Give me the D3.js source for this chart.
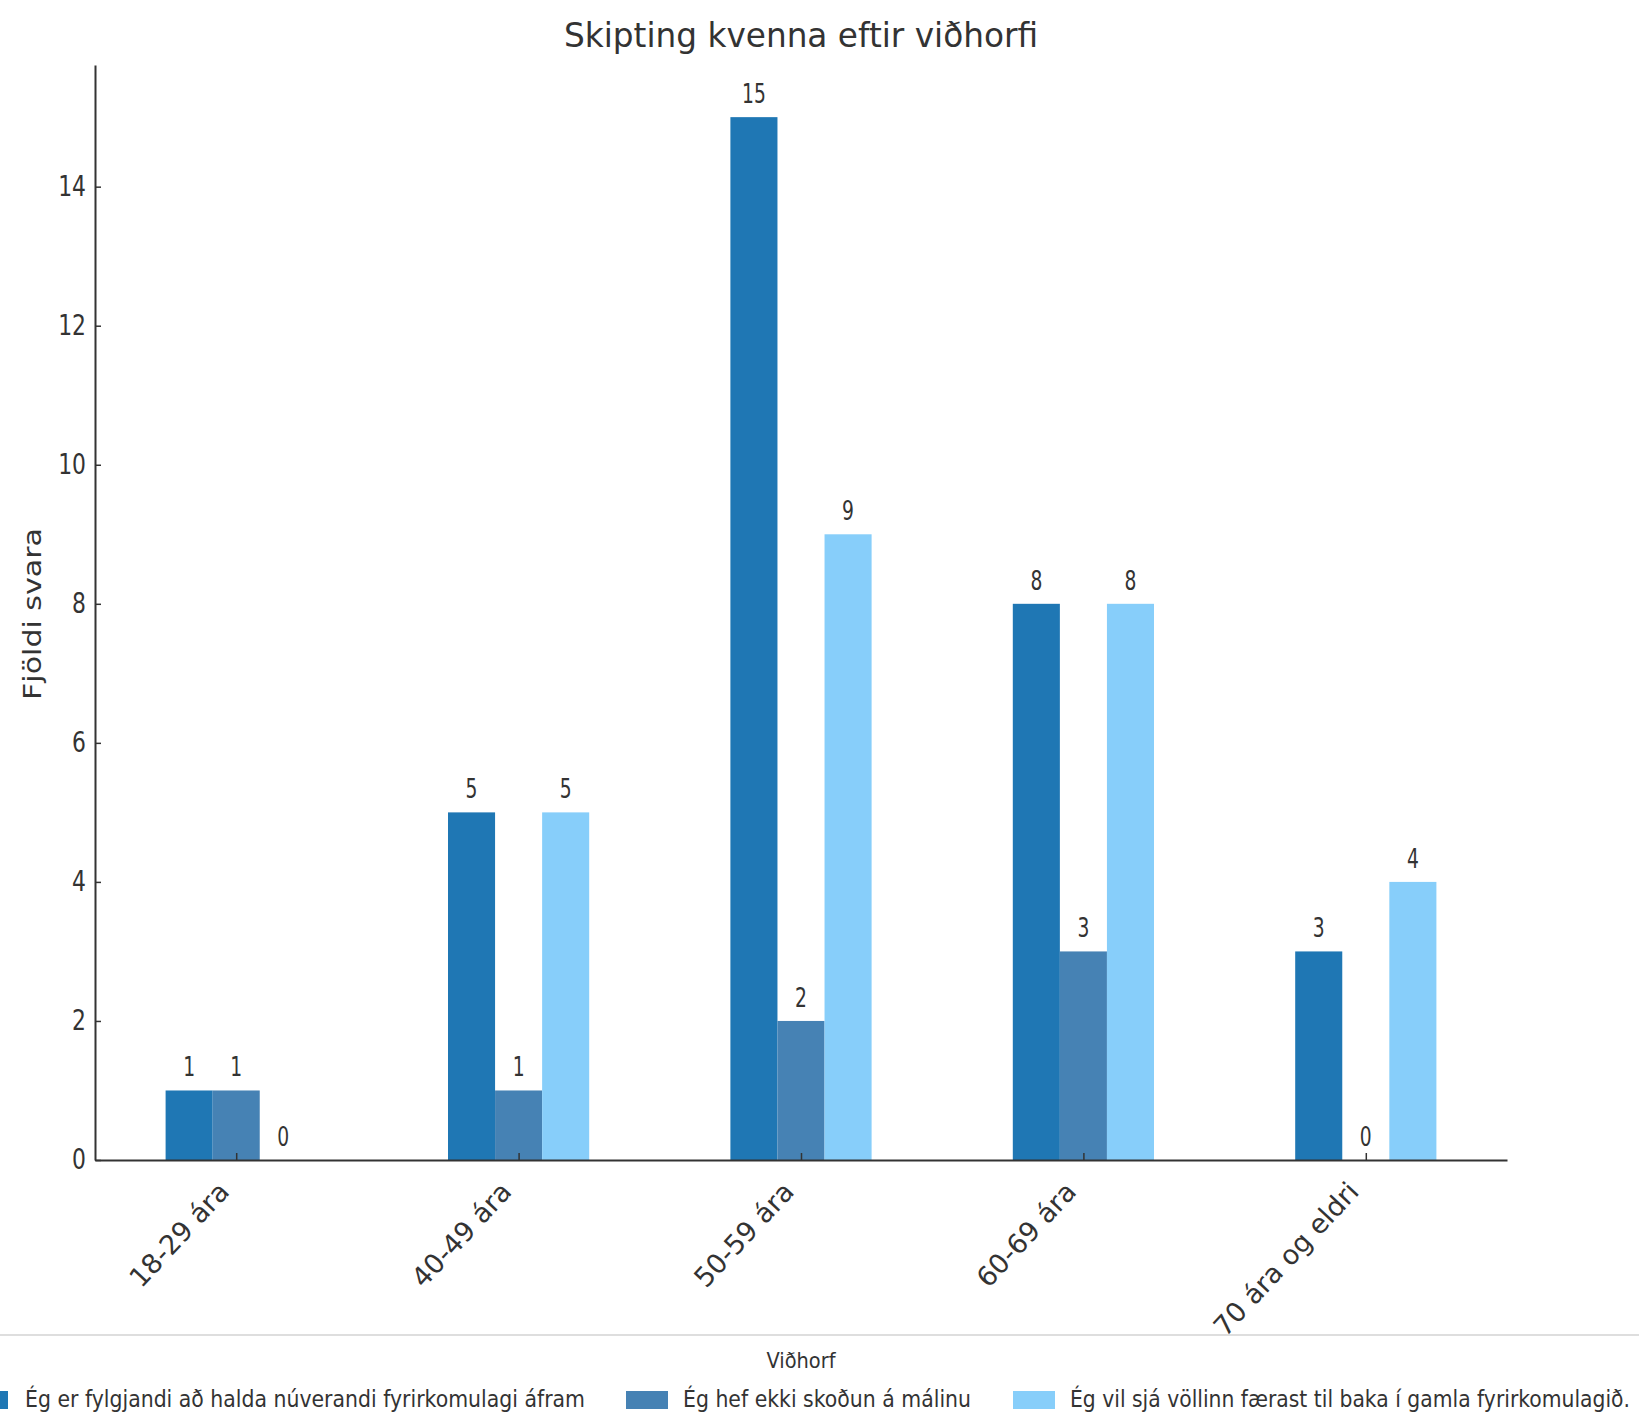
<!DOCTYPE html>
<html>
<head>
<meta charset="utf-8">
<script src="https://cdn.jsdelivr.net/npm/d3@7"></script>
<style>
  html, body { margin: 0; padding: 0; background: #fff; }
  svg { display: block; }
  text { font-family: "DejaVu Sans", sans-serif; fill: #333; }
</style>
</head>
<body>
<svg id="chart" width="1639" height="1417"></svg>
<script>
// ---- data ----
const title = "Skipting kvenna eftir viðhorfi";
const yLabel = "Fjöldi svara";
const legendTitle = "Viðhorf";
const categories = ["18-29 ára", "40-49 ára", "50-59 ára", "60-69 ára", "70 ára og eldri"];
const seriesNames = [
  "Ég er fylgjandi að halda núverandi fyrirkomulagi áfram",
  "Ég hef ekki skoðun á málinu",
  "Ég vil sjá völlinn færast til baka í gamla fyrirkomulagið."
];
const seriesFylgjandi = [1, 5, 15, 8, 3];
const seriesEkkiSkodun = [1, 1, 2, 3, 0];
const seriesTilBaka = [0, 5, 9, 8, 4];
const yTicks = [0, 2, 4, 6, 8, 10, 12, 14];
const colors = ["#1f77b4", "#4682b4", "#87cefa"];

const series = [seriesFylgjandi, seriesEkkiSkodun, seriesTilBaka];

// ---- layout ----
const svg = d3.select("#chart");
const mLeft = 95, mRight = 1507, mTop = 65, mBottom = 1160;
const x = d3.scaleLinear().domain([-0.5, categories.length - 0.5]).range([mLeft, mRight]);
const y = d3.scaleLinear().domain([0, 15.75]).range([mBottom, mTop]);
const barW = 0.5 / series.length;

function condense(sel, factor) {
  sel.each(function() {
    const len = this.getComputedTextLength();
    d3.select(this).attr("textLength", len * factor).attr("lengthAdjust", "spacingAndGlyphs");
  });
}

// legend (frame drawn first so axis labels stay on top)
const lg = svg.append("g");
lg.append("rect").attr("x", -20).attr("y", 1335).attr("width", 1680).attr("height", 120)
  .attr("fill", "#fff").attr("stroke", "#d4d4d4").attr("stroke-width", 1.5);
lg.append("text").attr("x", 801).attr("y", 1368).attr("text-anchor", "middle")
  .attr("font-size", 21).attr("textLength", 69).attr("lengthAdjust", "spacingAndGlyphs")
  .text(legendTitle);
const patchX = [-34, 626, 1013];
const textX = [25, 683, 1070];
const textLen = [560, 288, 560];
seriesNames.forEach((name, j) => {
  lg.append("rect").attr("x", patchX[j]).attr("y", 1391).attr("width", 42).attr("height", 18).attr("fill", colors[j]);
  lg.append("text").attr("x", textX[j]).attr("y", 1407).attr("font-size", 23)
    .attr("textLength", textLen[j]).attr("lengthAdjust", "spacingAndGlyphs")
    .text(name);
});

// bars
series.forEach((vals, j) => {
  const off = (j - (series.length - 1) / 2) * barW;
  svg.append("g").selectAll("rect").data(vals).join("rect")
    .attr("x", (d, i) => x(i + off - barW / 2))
    .attr("width", x(barW) - x(0))
    .attr("y", d => y(d))
    .attr("height", d => y(0) - y(d))
    .attr("fill", colors[j]);
  const lbl = svg.append("g").selectAll("text").data(vals).join("text")
    .attr("x", (d, i) => x(i + off))
    .attr("y", d => y(d) - 14)
    .attr("text-anchor", "middle")
    .attr("font-size", 26)
    .text(d => d);
  condense(lbl, 0.72);
});

// y axis
const yAxis = svg.append("g").attr("transform", `translate(${mLeft},0)`)
  .call(d3.axisLeft(y).tickValues(yTicks).tickSizeInner(-6).tickSizeOuter(0).tickPadding(9).tickFormat(d3.format("d")));
yAxis.select(".domain").attr("stroke", "#333").attr("stroke-width", 2);
yAxis.selectAll(".tick line").attr("stroke", "#333").attr("stroke-width", 1.5);
yAxis.selectAll(".tick text").attr("font-size", 28).attr("fill", "#333").style("font-family", "DejaVu Sans");
condense(yAxis.selectAll(".tick text"), 0.78);

// x axis
const xAxis = svg.append("g").attr("transform", `translate(0,${mBottom})`)
  .call(d3.axisBottom(x).tickValues(d3.range(categories.length)).tickSizeInner(-7).tickSizeOuter(0).tickFormat(i => categories[i]));
xAxis.select(".domain").attr("stroke", "#333").attr("stroke-width", 2);
xAxis.selectAll(".tick line").attr("stroke", "#333").attr("stroke-width", 1.5);
xAxis.selectAll(".tick text")
  .attr("font-size", 27).attr("fill", "#333").style("font-family", "DejaVu Sans")
  .attr("text-anchor", "end")
  .attr("x", 0).attr("y", 0).attr("dy", null)
  .attr("transform", "translate(-6,33) rotate(-47)");

// title
svg.append("text")
  .attr("x", (mLeft + mRight) / 2).attr("y", 47)
  .attr("text-anchor", "middle").attr("font-size", 34)
  .attr("textLength", 474).attr("lengthAdjust", "spacingAndGlyphs")
  .text(title);

// y label
svg.append("text")
  .attr("transform", "translate(41,614) rotate(-90)")
  .attr("text-anchor", "middle").attr("font-size", 24)
  .attr("textLength", 172).attr("lengthAdjust", "spacingAndGlyphs")
  .text(yLabel);
</script>
</body>
</html>
